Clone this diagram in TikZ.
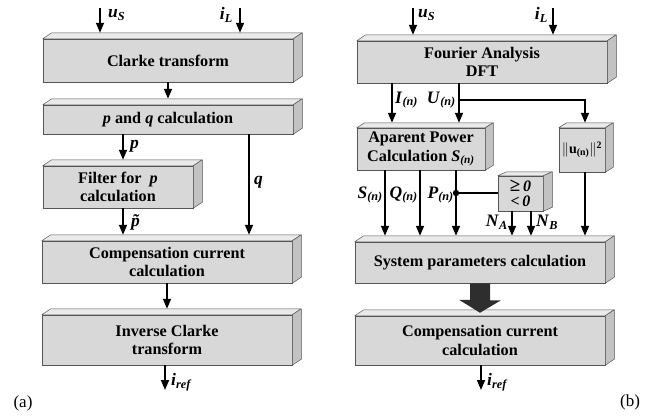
\documentclass[tikz,border=0pt]{standalone}
\usepackage{fontspec}
\setmainfont{Liberation Serif}
\usetikzlibrary{arrows.meta,calc}

\definecolor{facefront}{HTML}{D8D8D8}
\definecolor{facetopc}{HTML}{EAEAEA}
\definecolor{facesidec}{HTML}{C2C2C2}
\definecolor{edgegray}{HTML}{555555}
\definecolor{bigarrow}{HTML}{2E2E2E}

% bold italic variable with optional subscript
\newcommand\vlab[2]{\textbf{\textit{#1}}\textsubscript{\textbf{\textit{#2}}}}

% top and right faces of a block drawn as a box
\newcommand\blkfaces[3]{%
  \path[topface] (#1.north west) -- ++(#2,-#3) -- ([shift={(#2,-#3)}]#1.north east) -- (#1.north east) -- cycle;
  \path[sideface] (#1.north east) -- ++(#2,-#3) -- ([shift={(#2,-#3)}]#1.south east) -- (#1.south east) -- cycle;
  \coordinate (#1-t) at ([yshift=#3pt]#1.north);}

\tikzset{
  blk/.style={draw=edgegray, fill=facefront, line width=0.5pt, inner sep=0pt,
    align=center, font=\fontsize{16.2}{18.5}\selectfont\bfseries},
  topface/.style={draw=edgegray, fill=facetopc, line width=0.5pt, line join=round},
  sideface/.style={draw=edgegray, fill=facesidec, line width=0.5pt, line join=round},
  flow/.style={line width=1.7pt, -{Triangle[length=10pt,width=8pt]}},
  wire/.style={line width=1.7pt},
  lab/.style={inner sep=0pt, font=\fontsize{17.5}{19}\selectfont},
  tag/.style={inner sep=0pt, font=\fontsize{17}{19}\selectfont},
}

\begin{document}
\begin{tikzpicture}[x=1pt,y=-1pt]
\useasboundingbox (0,0) rectangle (659,418);

% ---------------- (a) p-q theory ----------------
\node[blk, minimum width=250pt, minimum height=43pt] (clarke) at (168,60.5) {Clarke transform};
\blkfaces{clarke}{9}{6}
\node[blk, minimum width=250pt, minimum height=29pt] (pq) at (168,119.5) {\textit{p} and \textit{q} calculation};
\blkfaces{pq}{9}{6}
\node[blk, minimum width=150pt, minimum height=42pt] (filt) at (118,187) {Filter for \ \textit{p}\\calculation};
\blkfaces{filt}{9}{6}
\node[blk, minimum width=250pt, minimum height=42pt] (comp) at (167,262) {Compensation current\\calculation};
\blkfaces{comp}{9}{6}
\node[blk, minimum width=250pt, minimum height=50pt] (inv) at (167,340) {Inverse Clarke\\transform};
\blkfaces{inv}{9}{6}

\coordinate (usA) at (100,8);
\coordinate (iLA) at (240,8);
\coordinate (pX) at (123,0);
\coordinate (qX) at (249,0);
\coordinate (irefA) at (165,390);

\draw[flow] (usA) -- (usA |- clarke-t);
\draw[flow] (iLA) -- (iLA |- clarke-t);
\draw[flow] (clarke.south) -- (clarke.south |- pq-t);
\draw[flow] (pq.south -| pX) -- (pX |- filt-t);
\draw[flow] (pq.south -| qX) -- (qX |- comp-t);
\draw[flow] (filt.south -| pX) -- (pX |- comp-t);
\draw[flow] (comp.south) -- (comp.south |- inv-t);
\draw[flow] (inv.south -| irefA) -- (irefA);

\node[lab, anchor=west] (lusA) at (108,15) {\vlab{u}{S}};
\node[lab, anchor=east] (liLA) at (233,15) {\vlab{i}{L}};
\node[lab, anchor=west] (lp) at (130,146) {\textbf{\textit{p}}};
\node[lab, anchor=west] (lq) at (254,182) {\textbf{\textit{q}}};
\node[lab, anchor=west] (lpt) at (131,222) {\textbf{\textit{\~{p}}}};
\node[lab, anchor=west] (lirefA) at (171,382) {\vlab{i}{ref}};
\node[tag] (ta) at (23,403) {(a)};

% ---------------- (b) DFT based ----------------
\node[blk, minimum width=250pt, minimum height=42pt] (fourier) at (482,62) {Fourier Analysis\\DFT};
\blkfaces{fourier}{9}{6}
\node[blk, minimum width=128pt, minimum height=42pt] (apar) at (421,149) {Aparent Power\\Calculation \vlab{S}{(n)}};
\blkfaces{apar}{8}{5}
\node[blk, minimum width=46pt, minimum height=44pt, font=\fontsize{14}{16}\selectfont\bfseries] (norm) at (582,150)
  {$\|$\textbf{u}\textsubscript{(n)}$\|$\textsuperscript{2}};
\blkfaces{norm}{8}{5}
\node[blk, minimum width=45pt, minimum height=35pt, font=\fontsize{16}{15}\selectfont\bfseries] (cmp) at (520.5,193.5)
  {{\fontsize{19}{15}\selectfont ≥}\,\textit{0}\\<\,\textit{0}};
\blkfaces{cmp}{9}{4}
\node[blk, minimum width=250pt, minimum height=41pt] (sys) at (480,262.5) {System parameters calculation};
\blkfaces{sys}{9}{6}
\node[blk, minimum width=250pt, minimum height=49pt] (comp2) at (480,340.5) {Compensation current\\calculation};
\blkfaces{comp2}{9}{6}

\coordinate (usB) at (413,8);
\coordinate (iLB) at (553,8);
\coordinate (iX) at (392,0);
\coordinate (uX) at (459,0);
\coordinate (brk) at (459,100);
\coordinate (nX) at (585,0);
\coordinate (sX) at (385,0);
\coordinate (qnX) at (420,0);
\coordinate (pnX) at (456,0);
\coordinate (jP) at (456,193);
\coordinate (naX) at (512,0);
\coordinate (nbX) at (531,0);
\coordinate (irefB) at (481,390);

\draw[flow] (usB) -- (usB |- fourier-t);
\draw[flow] (iLB) -- (iLB |- fourier-t);
\draw[flow] (fourier.south -| iX) -- (iX |- apar-t);
\draw[flow] (fourier.south -| uX) -- (uX |- apar-t);
\draw[flow] (brk) -| (nX |- norm-t);
\draw[flow] (apar.south -| sX) -- (sX |- sys-t);
\draw[flow] (apar.south -| qnX) -- (qnX |- sys-t);
\draw[flow] (apar.south -| pnX) -- (pnX |- sys-t);
\draw[wire] (jP) -- (jP -| cmp.west);
\fill (jP) circle (3.2);
\draw[flow] (cmp.south -| naX) -- (naX |- sys-t);
\draw[flow] (cmp.south -| nbX) -- (nbX |- sys-t);
\draw[flow] (norm.south -| nX) -- (nX |- sys-t);
\fill[bigarrow] ([xshift=-10pt]sys.south) -- ([xshift=10pt]sys.south)
  -- ++(0,17) -- ++(11,0) -- ([yshift=-3pt]comp2-t) -- ++(-21,-13) -- ++(11,0) -- cycle;
\draw[flow] (comp2.south -| irefB) -- (irefB);

\node[lab, anchor=west] (lusB) at (418,15) {\vlab{u}{S}};
\node[lab, anchor=east] (liLB) at (548,15) {\vlab{i}{L}};
\node[lab, anchor=west] (lIn) at (395,100) {\vlab{I}{(n)}};
\node[lab, anchor=east] (lUn) at (456,100) {\vlab{U}{(n)}};
\node[lab, anchor=east] (lSn) at (383,195) {\vlab{S}{(n)}};
\node[lab, anchor=east] (lQn) at (418,195) {\vlab{Q}{(n)}};
\node[lab, anchor=east] (lPn) at (454,195) {\vlab{P}{(n)}};
\node[lab, anchor=east] (lNA) at (508,222) {\vlab{N}{A}};
\node[lab, anchor=west] (lNB) at (536,222) {\vlab{N}{B}};
\node[lab, anchor=west] (lirefB) at (487,382) {\vlab{i}{ref}};
\node[tag] (tb) at (630,402) {(b)};
\end{tikzpicture}
\end{document}
